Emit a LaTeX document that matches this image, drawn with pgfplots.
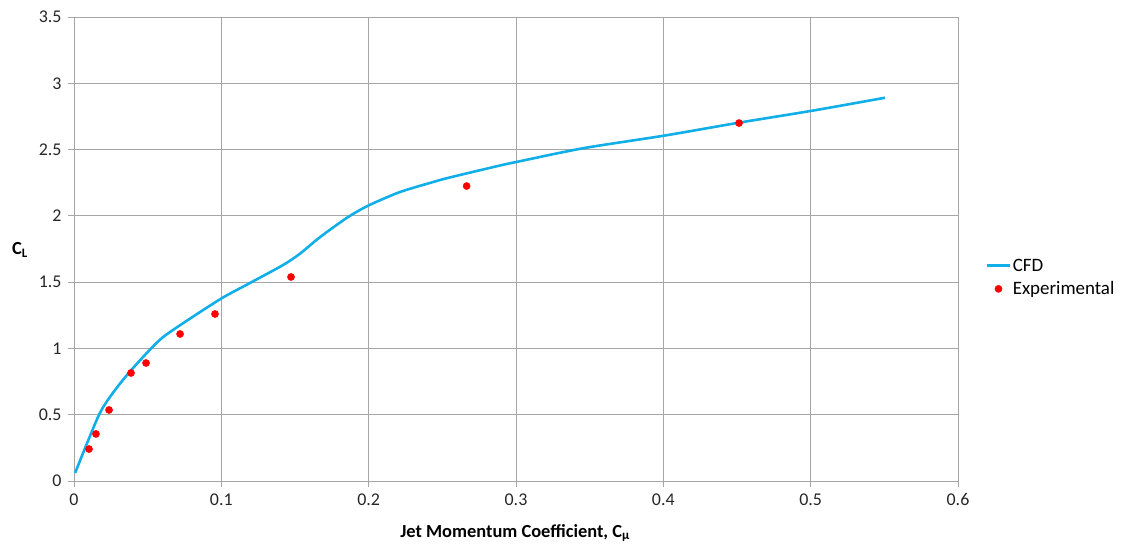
\documentclass[border=0pt]{standalone}
\usepackage{pgfplots}
\pgfplotsset{compat=1.18}
\usepackage{fontspec}
\setmainfont{Carlito}
\definecolor{cfdblue}{HTML}{12AEE8}
\definecolor{expred}{HTML}{FF0000}
\definecolor{gridgray}{HTML}{A6A6A6}
\pgfplotsset{
  linelegend/.style={legend image code/.code={\draw[##1] (0bp,0bp) -- (23bp,0bp);}},
  marklegend/.style={legend image code/.code={\draw[##1] plot coordinates {(12bp,0bp)};}},
}
\pgfplotstableread{
x y
0.0007 0.060
0.0163 0.483
0.0244 0.634
0.0360 0.800
0.0502 0.975
0.0604 1.085
0.0767 1.210
0.1005 1.380
0.1195 1.494
0.1419 1.629
0.1534 1.715
0.1650 1.822
0.1758 1.912
0.1873 2.000
0.2002 2.080
0.2213 2.180
0.2437 2.255
0.2552 2.290
0.2892 2.380
0.3005 2.407
0.3455 2.510
0.4005 2.605
0.4514 2.703
0.5010 2.793
0.5505 2.891
}\cfd
\pgfplotstableread{
x y
0.0102 0.241
0.0149 0.355
0.0238 0.536
0.0387 0.815
0.0489 0.890
0.0720 1.109
0.0957 1.260
0.1473 1.539
0.2665 2.225
0.4514 2.700
}\expdata
\begin{document}
\begin{tikzpicture}
\useasboundingbox (-74bp,-67bp) rectangle (1051bp,481bp);
\begin{axis}[
  at={(0bp,0bp)}, anchor=south west,
  scale only axis, width=884bp, height=464bp,
  xmin=0, xmax=0.6, ymin=0, ymax=3.5,
  xtick={0,0.1,0.2,0.3,0.4,0.5,0.6},
  ytick={0,0.5,1,1.5,2,2.5,3,3.5},
  /pgf/number format/assume math mode=true,
  /pgf/number format/fixed,
  grid=major,
  grid style={gridgray, line width=0.8bp},
  axis line style={gridgray, line width=0.8bp},
  tick style={gridgray, line width=0.8bp},
  tick align=outside, tick pos=left,
  major tick length=6bp,
  ticklabel style={font=\fontsize{18}{21}\selectfont, text=black!85},
  yticklabel style={xshift=-3bp},
  xticklabel style={yshift=-3bp},
  xlabel={\bfseries Jet Momentum Coefficient, C\textsubscript{μ}},
  xlabel style={font=\fontsize{18.5}{21}\selectfont, at={(axis description cs:0.499,-0.112)}, anchor=center},
  ylabel={\bfseries C\textsubscript{L}},
  ylabel style={font=\fontsize{18.5}{21}\selectfont, rotate=-90, at={(axis description cs:-0.061,0.498)}, anchor=center},
  legend style={at={(axis description cs:1,0.4386)}, anchor=west, xshift=27bp,
    draw=none, fill=none, inner sep=0pt, font=\fontsize{19}{22}\selectfont,
    row sep=5bp, /tikz/every even column/.append style={column sep=0bp}},
  legend cell align=left,
]
\addplot[cfdblue, line width=2.6bp, smooth, tension=0.45, linelegend]
  table[x=x,y=y]{\cfd};
\addlegendentry{CFD}
\addplot[only marks, mark=*, mark size=3.6bp, color=expred, mark options={draw=expred, fill=expred}, marklegend]
  table[x=x,y=y]{\expdata};
\addlegendentry{Experimental}
\end{axis}
\end{tikzpicture}
\end{document}
